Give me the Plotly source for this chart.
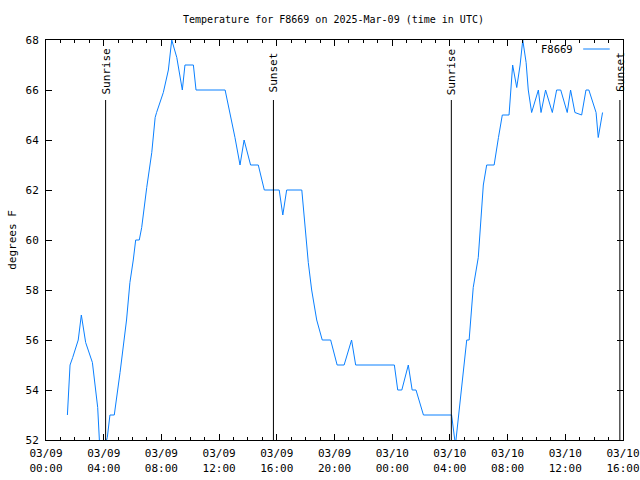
import plotly.graph_objects as go

# ---- data ----
times = [
    "2025-03-09 01:29", "2025-03-09 01:40", "2025-03-09 01:51", "2025-03-09 02:14", "2025-03-09 02:27",
    "2025-03-09 02:45", "2025-03-09 03:13", "2025-03-09 03:27", "2025-03-09 03:35", "2025-03-09 03:42",
    "2025-03-09 03:57", "2025-03-09 04:15", "2025-03-09 04:26", "2025-03-09 04:44", "2025-03-09 04:50",
    "2025-03-09 05:08", "2025-03-09 05:35", "2025-03-09 05:49", "2025-03-09 06:03", "2025-03-09 06:13",
    "2025-03-09 06:28", "2025-03-09 06:38", "2025-03-09 06:59", "2025-03-09 07:20", "2025-03-09 07:34",
    "2025-03-09 07:40", "2025-03-09 08:08", "2025-03-09 08:29", "2025-03-09 08:43", "2025-03-09 09:04",
    "2025-03-09 09:27", "2025-03-09 09:38", "2025-03-09 10:13", "2025-03-09 10:24", "2025-03-09 12:25",
    "2025-03-09 12:52", "2025-03-09 13:06", "2025-03-09 13:27", "2025-03-09 13:44", "2025-03-09 14:11",
    "2025-03-09 14:43", "2025-03-09 15:08", "2025-03-09 16:10", "2025-03-09 16:25", "2025-03-09 16:41",
    "2025-03-09 17:44", "2025-03-09 17:57", "2025-03-09 18:11", "2025-03-09 18:25", "2025-03-09 18:46",
    "2025-03-09 19:09", "2025-03-09 19:44", "2025-03-09 20:11", "2025-03-09 20:40", "2025-03-09 21:11",
    "2025-03-09 21:28", "2025-03-10 00:09", "2025-03-10 00:23", "2025-03-10 00:40", "2025-03-10 01:07",
    "2025-03-10 01:23", "2025-03-10 01:39", "2025-03-10 02:10", "2025-03-10 04:07", "2025-03-10 04:23",
    "2025-03-10 04:35", "2025-03-10 04:49", "2025-03-10 05:10", "2025-03-10 05:20", "2025-03-10 05:37",
    "2025-03-10 05:58", "2025-03-10 06:12", "2025-03-10 06:19", "2025-03-10 06:33", "2025-03-10 07:04",
    "2025-03-10 07:22", "2025-03-10 07:38", "2025-03-10 08:06", "2025-03-10 08:13", "2025-03-10 08:21",
    "2025-03-10 08:38", "2025-03-10 08:52", "2025-03-10 09:03", "2025-03-10 09:17", "2025-03-10 09:26",
    "2025-03-10 09:40", "2025-03-10 10:08", "2025-03-10 10:19", "2025-03-10 10:38", "2025-03-10 11:06",
    "2025-03-10 11:24", "2025-03-10 11:41", "2025-03-10 12:08", "2025-03-10 12:22", "2025-03-10 12:40",
    "2025-03-10 13:08", "2025-03-10 13:26", "2025-03-10 13:38", "2025-03-10 14:08", "2025-03-10 14:17",
    "2025-03-10 14:35",
]
temps_f = [
    53, 55, 55.3, 56, 57,
    55.9, 55.1, 54, 53.3, 52,
    51.5, 52.1, 53, 53, 53.4,
    54.7, 56.8, 58.3, 59.2, 60,
    60, 60.5, 62.1, 63.5, 64.9,
    65.1, 65.9, 66.8, 68, 67.3,
    66, 67, 67, 66, 66,
    64.8, 64.1, 63, 64, 63,
    63, 62, 62, 61, 62,
    62, 60.5, 59.1, 58, 56.8,
    56, 56, 55, 55, 56,
    55, 55, 54, 54, 55,
    54, 54, 53, 53, 51.8,
    52.9, 53.9, 56, 56, 58.1,
    59.3, 61.1, 62.2, 63, 63,
    64.1, 65, 65, 66, 67,
    66.1, 67, 68, 67.1, 66,
    65.1, 66, 65.1, 66, 65.1,
    66, 66, 65.1, 66, 65.1,
    65, 66, 66, 65.1, 64.1,
    65.1,
]
series_name = "F8669"

sun_times = ["2025-03-09 04:08", "2025-03-09 15:46", "2025-03-10 04:06", "2025-03-10 15:47"]
sun_labels = ["Sunrise", "Sunset", "Sunrise", "Sunset"]

tick_vals = ["2025-03-09 00:00", "2025-03-09 04:00", "2025-03-09 08:00", "2025-03-09 12:00",
             "2025-03-09 16:00", "2025-03-09 20:00", "2025-03-10 00:00", "2025-03-10 04:00",
             "2025-03-10 08:00", "2025-03-10 12:00", "2025-03-10 16:00"]
tick_text = ["03/09<br>00:00", "03/09<br>04:00", "03/09<br>08:00", "03/09<br>12:00",
             "03/09<br>16:00", "03/09<br>20:00", "03/10<br>00:00", "03/10<br>04:00",
             "03/10<br>08:00", "03/10<br>12:00", "03/10<br>16:00"]
y_ticks = [52, 54, 56, 58, 60, 62, 64, 66, 68]

FONT = "DejaVu Sans Mono"
LINE_COLOR = "#0a80ff"

fig = go.Figure()
fig.add_trace(go.Scatter(x=times, y=temps_f, mode="lines", name=series_name,
                         line=dict(color=LINE_COLOR, width=1), showlegend=False))

for t, lab in zip(sun_times, sun_labels):
    fig.add_shape(type="line", xref="x", yref="y", x0=t, x1=t, y0=52, y1=65.6,
                  line=dict(color="black", width=1))
    fig.add_annotation(x=t, y=66.72, xref="x", yref="y", text=lab, textangle=-90,
                       showarrow=False, font=dict(family=FONT, size=11, color="black"))

# legend imitation (text left of swatch, like gnuplot)
fig.add_annotation(x=0.9168, y=0.9775, xref="paper", yref="paper", text=series_name,
                   showarrow=False, xanchor="right", yanchor="middle",
                   font=dict(family=FONT, size=10.5, color="black"))
fig.add_shape(type="line", xref="paper", yref="paper", x0=0.931, x1=0.977, y0=0.9775, y1=0.9775,
              line=dict(color=LINE_COLOR, width=1))

fig.update_layout(
    width=640, height=480,
    margin=dict(l=46, r=17, t=40, b=40),
    paper_bgcolor="white", plot_bgcolor="white",
    font=dict(family=FONT, size=11, color="black"),
    title=dict(text="Temperature for F8669 on 2025-Mar-09 (time in UTC)", x=0.521, xanchor="center",
               y=0.96, yanchor="middle", font=dict(family=FONT, size=10, color="black")),
)
fig.update_xaxes(
    type="date", range=["2025-03-09 00:00", "2025-03-10 16:00"],
    tickvals=tick_vals, ticktext=tick_text, automargin=False, ticklabelstandoff=3,
    ticks="inside", ticklen=6, tickcolor="black", tickwidth=1,
    minor=dict(dtick=3600000, ticks="inside", ticklen=3, tickcolor="black", tickwidth=1, showgrid=False),
    showline=True, linecolor="black", linewidth=1, mirror="ticks",
    showgrid=False, zeroline=False, tickfont=dict(family=FONT, size=11),
)
fig.update_yaxes(
    range=[52, 68], tickvals=y_ticks, ticktext=[str(v) for v in y_ticks], automargin=False,
    ticklabelstandoff=4,
    ticks="inside", ticklen=6, tickcolor="black", tickwidth=1,
    showline=True, linecolor="black", linewidth=1, mirror="ticks",
    showgrid=False, zeroline=False, tickfont=dict(family=FONT, size=11),
    title=dict(text="degrees F", font=dict(family=FONT, size=11), standoff=6),
)

fig.write_html("out.html")
